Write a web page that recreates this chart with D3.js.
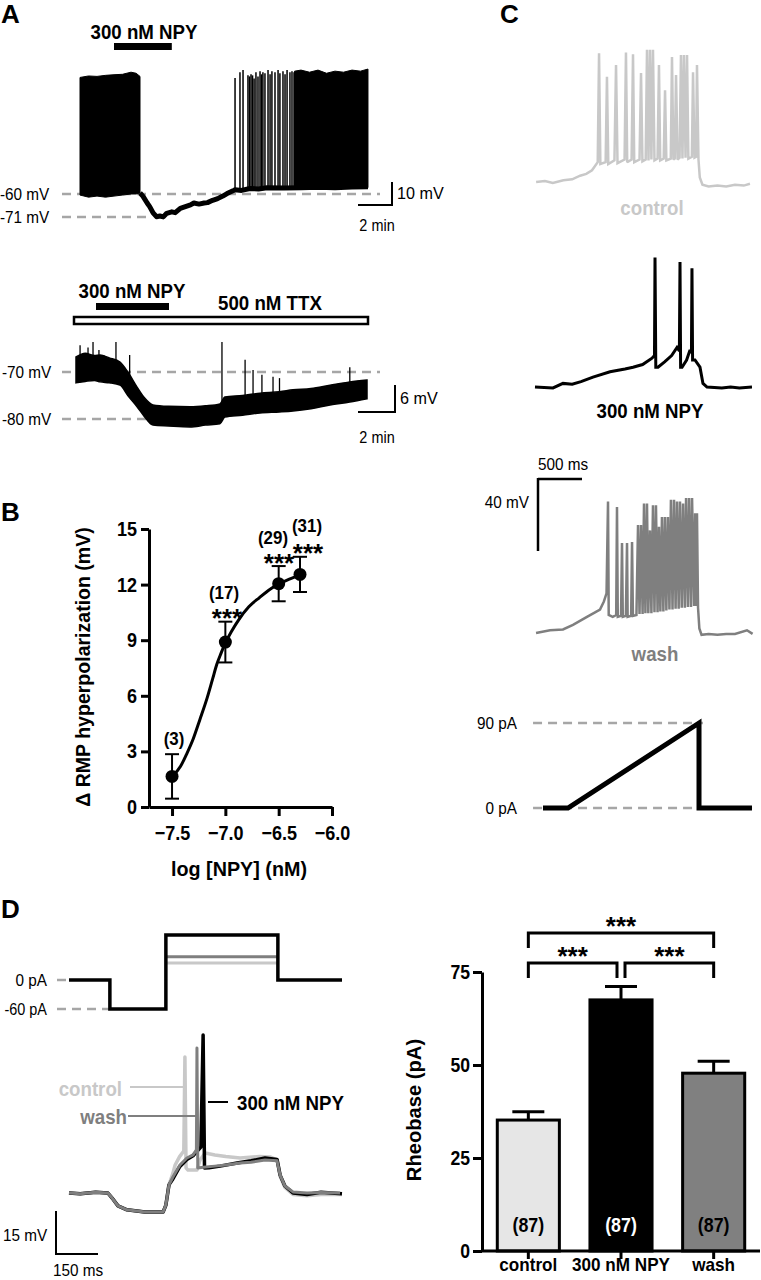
<!DOCTYPE html>
<html><head><meta charset="utf-8">
<script src="https://cdn.jsdelivr.net/npm/d3@7"></script>
<style>body{margin:0;background:#fff}</style>
</head><body>
<script>
// ================= DATA =================
// Panel A (top): time in min, membrane potential in mV
const a1Block1 = [[0,-4.5,-60.5],[0.5,-3.8,-61.5],[1,-4,-61],[1.5,-3.5,-61.5],[2,-3.2,-61],[2.5,-3,-60.5],[3,-2,-60],[3.3,-2.5,-60],[3.53,-4,-59.5]];
const a1Trace = [[3.53,-59.5],[3.7,-61],[3.95,-64.3],[4.1,-66],[4.3,-69],[4.5,-70.8],[4.7,-70.5],[4.9,-70.9],[5.1,-69.2],[5.4,-68.5],[5.6,-68.9],[5.9,-66.8],[6.2,-66],[6.5,-65.2],[6.7,-64.3],[7.0,-64.8],[7.3,-64.3],[7.5,-64.1],[7.8,-63],[8.1,-62.2],[8.4,-61],[8.65,-59.8],[9.0,-58.5],[9.12,-58],[9.5,-58.3],[10,-57.4],[10.5,-57.6],[11,-57],[12,-57.2],[13,-57],[14,-56.8],[15,-57],[16,-56.7],[16.94,-56.6]];
const a1Spikes = [[9.12,-58,-4.8],[9.41,-58,-2],[9.59,-58,-1],[9.88,-58,-3.5],[9.97,-58,-4],[10.06,-58,-3],[10.15,-57.5,-3.5],[10.24,-57.5,-5],[10.35,-57.5,-2],[10.47,-57.5,-4],[10.59,-57.5,-1.5],[10.68,-57.5,-3],[10.76,-57.5,-2],[10.88,-57.5,-2.5],[11.06,-57,-1],[11.18,-57,-3],[11.29,-57,-1.5],[11.47,-57,-2],[11.65,-57,-1],[11.76,-57,-2.5],[11.94,-57,-1.5],[12.06,-57,-3],[12.18,-57,-1],[12.35,-57,-2],[12.47,-57,-1.5],[12.59,-57,-2]];
const a1Block2 = [[12.62,-1.5,-57.5],[13,-1,-57.5],[13.5,-2,-57.5],[14,-1,-57],[14.5,-2.5,-57],[15,-1.5,-57],[15.5,-2,-57],[16,-1,-57],[16.5,-1.5,-57],[16.94,-0.5,-57]];
const a1Refs = [-60,-71];
const a1RefLabels = ["-60 mV","-71 mV"];

// Panel A (bottom, TTX): time in min, mV, noisy band [t, top, bottom]
const a2Band = [[0,-66.8,-72.3],[0.5,-66,-72],[1,-66.5,-71.8],[1.3,-66.4,-72.1],[1.8,-67,-72.3],[2.38,-67.9,-72.8],[2.8,-70,-75],[3.3,-73.2,-77.4],[3.7,-75.5,-79.5],[4.16,-77,-81.3],[5,-77.3,-81.5],[6.16,-77.4,-81.7],[7,-77.2,-81.3],[7.78,-76.8,-81],[8.05,-75.3,-79.6],[9,-75,-79.2],[9.95,-74.5,-78.7],[11,-74.2,-78.5],[11.73,-73.8,-78.3],[12.7,-73.5,-77.8],[13.73,-72.8,-77],[14.8,-72.1,-76.4],[15.73,-71.7,-75.7]];
const a2Spikes = [[0.22,-68,-64.3],[0.65,-68,-64.8],[0.92,-68,-63.6],[1.24,-68,-65.3],[1.5,-68,-66.4],[2.16,-68,-63.6],[2.9,-71,-66.4],[7.89,-77,-63.6],[9.14,-76,-67.4],[9.57,-76,-69.6],[10.05,-76,-70.6],[10.65,-75,-71],[11.0,-75,-71.3],[14.8,-73,-69]];
const a2Refs = [-70,-80];
const a2RefLabels = ["-70 mV","-80 mV"];

// Panel B: dose-response
const bLogConc = [-7.5,-7.0,-6.5,-6.3];
const bMean = [1.65,8.9,12.05,12.55];
const bSem = [1.2,1.1,0.95,0.95];
const bN = ["(3)","(17)","(29)","(31)"];
const bSig = ["","***","***","***"];
const bFit = [[-7.49,1.7],[-7.42,2.2],[-7.36,2.9],[-7.3,3.7],[-7.24,4.7],[-7.17,5.9],[-7.12,6.9],[-7.08,7.7],[-7.04,8.3],[-7.0,8.85],[-6.94,9.5],[-6.875,10.1],[-6.78,10.8],[-6.68,11.3],[-6.58,11.75],[-6.49,12.05],[-6.4,12.3],[-6.3,12.5]];
const bYTicks = [0,3,6,9,12,15];
const bXTicks = [-7.5,-7.0,-6.5,-6.0];

// Panel C: ramp-evoked firing, time in ms, mV relative to rest
const cCtrlBase = [[-10,0],[90,1],[180,-1],[300,2],[400,3],[490,7],[560,9],[625,13],[690,22],[720,20],[780,22],[810,20],[880,24],[915,21],[995,25],[1025,22],[1075,25],[1105,22],[1165,25],[1198,23],[1235,25],[1267,24],[1300,25],[1335,24],[1370,26],[1400,24],[1440,26],[1470,24],[1520,26],[1550,25],[1565,26],[1597,25],[1620,27],[1653,26],[1688,27],[1720,26],[1760,28],[1790,27],[1808,28],[1835,25],[1850,5],[1880,-3],[1950,-5],[2050,-4],[2150,-5],[2250,-3],[2350,-4],[2420,-2]];
const cCtrlSpikes = [[705,143],[795,117],[898,130],[1011,144],[1091,142],[1182,121],[1250,147],[1284,147],[1318,147],[1386,130],[1455,102],[1534,139],[1580,119],[1636,141],[1670,141],[1705,141],[1773,122],[1818,130]];
const cNpyBase = [[-23,0],[182,-1],[295,4],[400,3],[500,6],[636,11],[830,17],[1000,20],[1091,22],[1200,25],[1307,32],[1335,35],[1350,22],[1375,22],[1450,28],[1530,35],[1591,44],[1618,40],[1632,22],[1648,22],[1700,30],[1739,41],[1755,38],[1768,30],[1795,30],[1852,22],[1886,4],[1932,0],[2100,-1],[2200,0],[2300,-1],[2443,0]];
const cNpySpikes = [[1341,144],[1625,139],[1761,132]];
const cWashBase = [[-11,0],[148,3],[295,4],[409,9],[568,18],[716,26],[760,35],[790,44],[815,20],[860,18],[900,20],[918,18],[955,19],[975,18],[1010,19],[1030,18],[1070,19],[1090,19],[1130,20],[1165,21],[1200,21],[1232,22],[1265,22],[1300,22],[1335,23],[1370,23],[1402,24],[1436,24],[1470,25],[1505,26],[1540,26],[1575,27],[1610,27],[1645,28],[1680,28],[1715,29],[1750,29],[1785,30],[1808,30],[1830,28],[1845,5],[1870,-2],[1950,-1],[2050,-2],[2150,-1],[2250,-1],[2386,3],[2450,-1]];
const cWashSpikes = [[807,146],[909,140],[966,100],[1023,100],[1080,101],[1148,120],[1182,120],[1216,144],[1250,144],[1284,114],[1318,142],[1352,142],[1386,118],[1420,129],[1454,129],[1488,129],[1522,148],[1557,148],[1591,146],[1625,146],[1660,144],[1694,150],[1728,150],[1762,150],[1797,133],[1818,133]];
const cRamp = [[68,0],[352,0],[1841,90],[1841,0],[2443,0]];
const cRampRefs = [90,0];
const cRampLabels = ["90 pA","0 pA"];

// Panel D: step protocol (pA) and voltage responses (mV rel.)
const dProtoBlack = [[0,0],[146,0],[146,-60],[346,-60],[346,93],[746,93],[746,0],[975,0]];
const dProtoWash = [[346,48],[746,48]];
const dProtoCtrl = [[346,35],[746,35]];
const dPre = [[0,0],[40,-0.3],[95,0.3],[139,0],[154,-1.8],[175,-4.6],[207,-6],[271,-6.8],[336,-6.8],[346,-4.3],[357,2.9]];
const dCtrl = [[371,7],[379,10],[395,13],[410,15],[414,48.6],[418,9],[425,8.2],[457,8.2],[468,11.8],[486,14.3],[500,14],[521,13.6],[560,13],[611,12.5],[680,13],[718,12.9],[743,11.8],[754,6],[771,2],[800,-0.5],[850,-1],[900,-0.5],[975,-0.5]];
const dWash = [[371,5.7],[396,10],[421,12.5],[443,13.6],[455,15.4],[457,51.8],[460,8.9],[480,9.2],[521,9.6],[560,10],[611,10.7],[650,11],[700,11.8],[743,11.5],[754,6.4],[771,2.5],[800,0.4],[850,0],[900,0.2],[968,0]];
const dNpy = [[371,5],[396,9.5],[421,12],[443,13.3],[471,16.4],[479,56.4],[484,8.9],[500,9],[540,9.6],[600,10.7],[650,11.5],[700,12.5],[743,12],[754,6.4],[771,2.5],[800,0],[850,-0.5],[900,0.3],[975,-0.3]];

// Panel D: rheobase bars
const rbCats = ["control","300 nM NPY","wash"];
const rbMean = [35.2,67.5,47.8];
const rbSem = [2.2,3.6,3.2];
const rbN = ["(87)","(87)","(87)"];
const rbTicks = [0,25,50,75];
const rbBrackets = [[0,2,"***",1],[0,1,"***",0],[1,2,"***",0]];

// ================= DRAW =================
const FN = "'Liberation Sans Narrow','Arial Narrow','Liberation Sans',Arial,sans-serif";
const FL = "'Liberation Sans',Arial,sans-serif";
const LIGHT = "#c8c8c8", MID = "#7f7f7f", DASH = "#a6a6a6";

const svg = d3.select("body").append("svg").attr("width",761).attr("height",1280);

function condense(sel, f) {
  sel.each(function(){
    const len = this.getComputedTextLength();
    d3.select(this).attr("textLength",len*f).attr("lengthAdjust","spacingAndGlyphs");
  });
}
function txt(x,y,s,o={}) {
  const t = svg.append("text").attr("x",x).attr("y",y).text(s)
    .attr("font-family",o.ff||FN).attr("font-size",o.fs||21)
    .attr("font-weight",o.fw||"bold").attr("fill",o.fill||"#000")
    .attr("text-anchor",o.anchor||"start").attr("dominant-baseline",o.base||"central")
    .attr("transform",o.rot?`rotate(${o.rot},${x},${y})`:null);
  const f = o.cf!==undefined ? o.cf : (o.fw==="normal" ? 0.9 : 0.89);
  if (f!==1) condense(t,f);
  return t;
}
function line(x1,y1,x2,y2,o={}) {
  return svg.append("line").attr("x1",x1).attr("y1",y1).attr("x2",x2).attr("y2",y2)
    .attr("stroke",o.stroke||"#000").attr("stroke-width",o.sw||2)
    .attr("stroke-dasharray",o.dash||null);
}

// panel letters
txt(1,14,"A",{ff:FL,fs:26,cf:1});
txt(1,512,"B",{ff:FL,fs:26,cf:1});
txt(500,14,"C",{ff:FL,fs:26,cf:1});
txt(1,909,"D",{ff:FL,fs:26,cf:1});

// ---------- Panel A top ----------
{
  const x = d3.scaleLinear().domain([0,17]).range([80,369]);
  const y = d3.scaleLinear().domain([-60,-50]).range([194,173]);
  line(62,y(a1Refs[0]),380,y(a1Refs[0]),{stroke:DASH,sw:2.5,dash:"9,6"});
  line(62,y(a1Refs[1]),150,y(a1Refs[1]),{stroke:DASH,sw:2.5,dash:"9,6"});
  a1RefLabels.forEach((l,i)=>txt(0,y(a1Refs[i]),l,{fw:"normal",fs:17}));
  const area = d3.area().x(d=>x(d[0])).y1(d=>y(d[1])).y0(d=>y(d[2]));
  svg.append("path").attr("d",area(a1Block1)).attr("fill","#000").attr("stroke","#000").attr("stroke-width",1);
  svg.append("path").attr("d",area(a1Block2)).attr("fill","#000").attr("stroke","#000").attr("stroke-width",1);
  svg.append("path").attr("d",d3.line().x(d=>x(d[0])).y(d=>y(d[1]))(a1Trace))
    .attr("fill","none").attr("stroke","#000").attr("stroke-width",5).attr("stroke-linejoin","round");
  svg.append("g").selectAll("line").data(a1Spikes).join("line")
    .attr("x1",d=>x(d[0])).attr("x2",d=>x(d[0])).attr("y1",d=>y(d[1])).attr("y2",d=>y(d[2]))
    .attr("stroke","#000").attr("stroke-width",1.5);
  txt(144,31,"300 nM NPY",{anchor:"middle"});
  svg.append("rect").attr("x",x(2)).attr("y",43).attr("width",x(5.4)-x(2)).attr("height",7).attr("fill","#000");
  line(392,182,392,206,{sw:2});
  line(358,205,393,205,{sw:2});
  txt(397,193,"10 mV",{fw:"normal",fs:17,cf:0.95});
  txt(377,225,"2 min",{fw:"normal",fs:17,anchor:"middle",cf:0.85});
}

// ---------- Panel A bottom ----------
{
  const x = d3.scaleLinear().domain([0,2]).range([76,113]);
  const y = d3.scaleLinear().domain([-70,-80]).range([372,419]);
  line(62,y(a2Refs[0]),380,y(a2Refs[0]),{stroke:DASH,sw:2.5,dash:"9,6"});
  line(62,y(a2Refs[1]),150,y(a2Refs[1]),{stroke:DASH,sw:2.5,dash:"9,6"});
  a2RefLabels.forEach((l,i)=>txt(2,y(a2Refs[i]),l,{fw:"normal",fs:17}));
  const area = d3.area().x(d=>x(d[0])).y1(d=>y(d[1])).y0(d=>y(d[2])).curve(d3.curveMonotoneX);
  svg.append("path").attr("d",area(a2Band)).attr("fill","#000").attr("stroke","#000").attr("stroke-width",1.5);
  svg.append("g").selectAll("line").data(a2Spikes).join("line")
    .attr("x1",d=>x(d[0])).attr("x2",d=>x(d[0])).attr("y1",d=>y(d[1])).attr("y2",d=>y(d[2]))
    .attr("stroke","#000").attr("stroke-width",1.3);
  txt(132,290,"300 nM NPY",{anchor:"middle"});
  svg.append("rect").attr("x",96).attr("y",303).attr("width",73).attr("height",7).attr("fill","#000");
  txt(270,302,"500 nM TTX",{anchor:"middle"});
  svg.append("rect").attr("x",74).attr("y",317).attr("width",294).attr("height",7).attr("fill","#fff").attr("stroke","#000").attr("stroke-width",2.5);
  line(395,385,395,413,{sw:2});
  line(358,412,396,412,{sw:2});
  txt(400,398,"6 mV",{fw:"normal",fs:17,cf:0.95});
  txt(377,437,"2 min",{fw:"normal",fs:17,anchor:"middle",cf:0.85});
}

// ---------- Panel B ----------
{
  const x = d3.scaleLinear().domain([-7.716,-6.0]).range([149,332]);
  const y = d3.scaleLinear().domain([0,15]).range([807,529]);
  const gy = svg.append("g").attr("transform","translate(149,0)")
    .call(d3.axisLeft(y).tickValues(bYTicks).tickSize(8).tickSizeOuter(0).tickPadding(4));
  const gx = svg.append("g").attr("transform","translate(0,807)")
    .call(d3.axisBottom(x).tickValues(bXTicks).tickFormat(d3.format(".1f")).tickSize(9).tickSizeOuter(0).tickPadding(6));
  [gy,gx].forEach(g=>{
    g.select(".domain").attr("stroke-width",3).attr("stroke","#000");
    g.selectAll(".tick line").attr("stroke-width",3).attr("stroke","#000");
    g.selectAll(".tick text").attr("font-family",FN).attr("font-size",20).attr("font-weight","bold").attr("fill","#000");
    condense(g.selectAll(".tick text"),0.9);
  });
  gx.selectAll(".tick text").attr("dy","0.9em");
  txt(82,667,"Δ RMP hyperpolarization (mV)",{rot:-90,anchor:"middle",cf:0.93});
  txt(239,868,"log [NPY] (nM)",{anchor:"middle",cf:0.94});
  svg.append("path").attr("d",d3.line().x(d=>x(d[0])).y(d=>y(d[1])).curve(d3.curveMonotoneX)(bFit))
    .attr("fill","none").attr("stroke","#000").attr("stroke-width",3);
  bLogConc.forEach((c,i)=>{
    const cx = x(c);
    line(cx,y(bMean[i]-bSem[i]),cx,y(bMean[i]+bSem[i]),{sw:2});
    line(cx-7,y(bMean[i]+bSem[i]),cx+7,y(bMean[i]+bSem[i]),{sw:2});
    line(cx-7,y(bMean[i]-bSem[i]),cx+7,y(bMean[i]-bSem[i]),{sw:2});
    svg.append("circle").attr("cx",cx).attr("cy",y(bMean[i])).attr("r",6.5).attr("fill","#000");
  });
  const nPos = [[174,738],[224,592],[273,537],[307,525]];
  const sPos = [null,[227,618],[279,563],[308,553]];
  bN.forEach((n,i)=>txt(nPos[i][0],nPos[i][1],n,{anchor:"middle",fs:19}));
  bSig.forEach((s,i)=>{ if(s) txt(sPos[i][0],sPos[i][1],s,{anchor:"middle",ff:FL,fs:26,cf:1}); });
}

// ---------- Panel C ----------
{
  const x = d3.scaleLinear().domain([0,500]).range([537,581]);
  const mk = base => d3.scaleLinear().domain([0,40]).range([base,base-36]);
  const traces = [
    {base:cCtrlBase,spk:cCtrlSpikes,y:mk(182),col:LIGHT,sw:2.5},
    {base:cNpyBase,spk:cNpySpikes,y:mk(387),col:"#000",sw:3},
    {base:cWashBase,spk:cWashSpikes,y:mk(633),col:MID,sw:2.5}
  ];
  traces.forEach(t=>{
    const pts = t.base.concat(t.spk).sort((a,b)=>a[0]-b[0]);
    svg.append("path").attr("d",d3.line().x(d=>x(d[0])).y(d=>t.y(d[1]))(pts))
      .attr("fill","none").attr("stroke",t.col).attr("stroke-width",t.sw).attr("stroke-linejoin","miter").attr("stroke-miterlimit",2);
  });
  txt(652,207,"control",{anchor:"middle",fill:LIGHT});
  txt(650,410,"300 nM NPY",{anchor:"middle"});
  txt(655,653,"wash",{anchor:"middle",fill:MID});
  const sy = mk(515);
  line(x(0)+1,479,x(500)+1,479,{sw:2.5});
  line(x(0)+1,478,x(0)+1,sy(-40),{sw:2.5});
  txt(563,464,"500 ms",{fw:"normal",fs:17,anchor:"middle"});
  txt(529,502,"40 mV",{fw:"normal",fs:17,anchor:"end"});
  const yr = d3.scaleLinear().domain([0,90]).range([808,723]);
  line(x(-45),yr(cRampRefs[0]),x(1886),yr(cRampRefs[0]),{stroke:DASH,sw:2.5,dash:"9,6"});
  line(x(-45),yr(cRampRefs[1]),x(2511),yr(cRampRefs[1]),{stroke:DASH,sw:2.5,dash:"9,6"});
  cRampLabels.forEach((l,i)=>txt(517,yr(cRampRefs[i]),l,{fw:"normal",fs:17,anchor:"end"}));
  svg.append("path").attr("d",d3.line().x(d=>x(d[0])).y(d=>yr(d[1]))(cRamp))
    .attr("fill","none").attr("stroke","#000").attr("stroke-width",5);
}

// ---------- Panel D left ----------
{
  const x = d3.scaleLinear().domain([0,150]).range([69,111]);
  const yp = d3.scaleLinear().domain([0,-60]).range([980,1009]);
  const yv = d3.scaleLinear().domain([0,15]).range([1193,1151]);
  line(57,yp(0),66,yp(0),{stroke:DASH,sw:2.5});
  line(57,yp(-60),110,yp(-60),{stroke:DASH,sw:2.5,dash:"9,6"});
  txt(47,yp(0),"0 pA",{fw:"normal",fs:17,anchor:"end"});
  txt(47,yp(-60),"-60 pA",{fw:"normal",fs:17,anchor:"end",cf:0.85});
  const lp = d3.line().x(d=>x(d[0])).y(d=>yp(d[1]));
  svg.append("path").attr("d",lp(dProtoCtrl)).attr("stroke",LIGHT).attr("stroke-width",3).attr("fill","none");
  svg.append("path").attr("d",lp(dProtoWash)).attr("stroke",MID).attr("stroke-width",3).attr("fill","none");
  svg.append("path").attr("d",lp(dProtoBlack)).attr("stroke","#000").attr("stroke-width",3.5).attr("fill","none");
  const lv = d3.line().x(d=>x(d[0])).y(d=>yv(d[1]));
  [[dCtrl,LIGHT,3.5],[dNpy,"#000",3.5],[dWash,MID,3]].forEach(([arr,col,sw])=>{
    svg.append("path").attr("d",lv(dPre.concat(arr))).attr("fill","none").attr("stroke",col).attr("stroke-width",sw).attr("stroke-linejoin","round");
  });
  txt(122,1088,"control",{anchor:"end",fill:LIGHT});
  line(130,1087,183,1087,{stroke:LIGHT,sw:2});
  txt(127,1116,"wash",{anchor:"end",fill:MID});
  line(128,1116,197,1116,{stroke:MID,sw:2});
  txt(237,1102,"300 nM NPY",{});
  line(208,1102,228,1102,{sw:2});
  line(56,1211,56,1255,{sw:2});
  line(55,1254,98,1254,{sw:2});
  txt(3,1235,"15 mV",{fw:"normal",fs:17});
  txt(78,1270,"150 ms",{fw:"normal",fs:17,anchor:"middle"});
}

// ---------- Panel D right: rheobase ----------
{
  const x = d3.scaleBand().domain(rbCats).range([482,760]).paddingInner(0.33).paddingOuter(0.165);
  const y = d3.scaleLinear().domain([0,75]).range([1251,972]);
  const fills = ["#e6e6e6","#000","#808080"];
  const nCol = ["#000","#fff","#000"];
  rbCats.forEach((c,i)=>{
    const cx = x(c)+x.bandwidth()/2;
    line(cx,y(rbMean[i]),cx,y(rbMean[i]+rbSem[i]),{sw:3});
    line(cx-16,y(rbMean[i]+rbSem[i]),cx+16,y(rbMean[i]+rbSem[i]),{sw:3});
  });
  svg.append("g").selectAll("rect").data(rbCats).join("rect")
    .attr("x",d=>x(d)).attr("y",(d,i)=>y(rbMean[i])).attr("width",x.bandwidth())
    .attr("height",(d,i)=>y(0)-y(rbMean[i])).attr("fill",(d,i)=>fills[i])
    .attr("stroke","#000").attr("stroke-width",3);
  const gy = svg.append("g").attr("transform","translate(482,0)")
    .call(d3.axisLeft(y).tickValues(rbTicks).tickSize(9).tickSizeOuter(0).tickPadding(3));
  const gx = svg.append("g").attr("transform","translate(0,1251)")
    .call(d3.axisBottom(x).tickSize(8).tickSizeOuter(0).tickPadding(2));
  [gy,gx].forEach(g=>{
    g.select(".domain").attr("stroke-width",3).attr("stroke","#000");
    g.selectAll(".tick line").attr("stroke-width",3).attr("stroke","#000");
    g.selectAll(".tick text").attr("font-family",FN).attr("font-size",20).attr("font-weight","bold").attr("fill","#000");
  });
  gx.select(".domain").attr("d","M482,0H760");
  gx.selectAll(".tick text").attr("font-size",19).attr("dy","0.55em");
  condense(gy.selectAll(".tick text"),0.88);
  condense(gx.selectAll(".tick text"),0.9);
  rbCats.forEach((c,i)=>txt(x(c)+x.bandwidth()/2,1225,rbN[i],{anchor:"middle",fill:nCol[i],fs:20}));
  txt(413,1110,"Rheobase (pA)",{rot:-90,anchor:"middle",cf:0.96});
  rbBrackets.forEach(([a,b,s,lvl])=>{
    const ca = x(rbCats[a])+x.bandwidth()/2, cb = x(rbCats[b])+x.bandwidth()/2;
    const yTop = lvl ? 933 : 963, yLeg = yTop+15;
    let x1 = ca, x2 = cb;
    if(!lvl && a===0) x2 = cb-4;
    if(!lvl && a===1) x1 = ca+4;
    svg.append("path").attr("d",`M${x1},${yLeg}V${yTop}H${x2}V${yLeg}`)
      .attr("fill","none").attr("stroke","#000").attr("stroke-width",3);
    txt((x1+x2)/2,yTop-7,s,{anchor:"middle",ff:FL,fs:26,cf:1});
  });
}
</script>
</body></html>
